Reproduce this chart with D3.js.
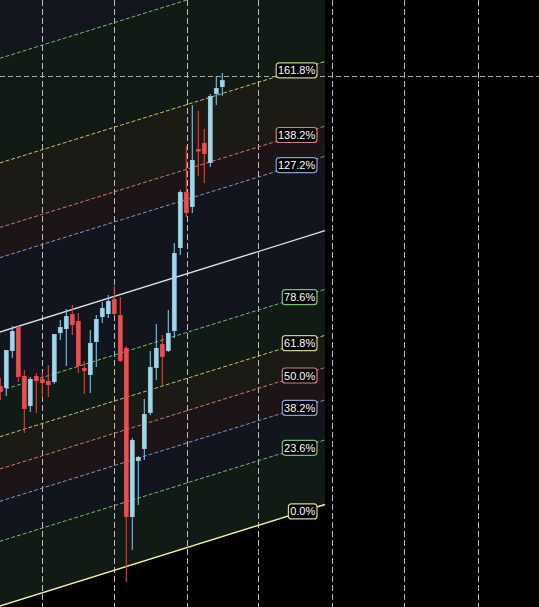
<!DOCTYPE html>
<html><head><meta charset="utf-8">
<script src="https://cdn.jsdelivr.net/npm/d3@7"></script>
<style>html,body{margin:0;padding:0;background:#000;overflow:hidden}</style>
</head><body><svg id="c" width="539" height="607"></svg>
<script>
const W = 539, H = 607;

// OHLC data (price units), one entry per bar
const opens  = [22.1,21.9,25.6,28.0,23.1,20.1,23.1,22.8,22.6,22.5,27.4,27.8,29.3,28.6,23.9,23.2,26.5,29.0,29.3,30.8,29.2,25.9, 9.0,14.6,15.8,19.4,23.9,26.3,25.6,27.6,35.9,41.5,40.0,45.8,46.4,44.4,51.3,52.0];
const highs  = [22.9,25.7,28.1,28.1,23.7,23.0,23.4,23.5,24.2,27.3,28.7,29.8,30.2,29.4,24.6,27.7,29.2,30.5,31.2,32.1,31.0,26.1,16.9,15.1,20.8,25.6,28.3,27.2,29.7,36.4,41.7,46.1,50.2,49.6,47.8,51.3,53.1,53.4];
const lows   = [20.7,21.1,24.9,22.5,17.4,19.5,19.4,21.0,21.0,22.3,26.7,24.1,27.2,23.4,21.3,21.4,24.0,28.4,28.9,29.1,24.5, 2.5, 5.7,10.2,14.7,19.2,22.7,22.2,25.5,26.9,35.2,39.0,39.4,43.1,42.4,44.0,50.2,51.1];
const closes = [21.5,25.7,27.6,23.0,19.8,22.8,22.6,22.4,22.2,27.3,28.0,29.1,28.2,24.1,23.6,26.4,28.8,29.9,30.6,29.3,24.6, 9.0,16.7,15.0,19.3,24.0,25.9,25.0,27.4,35.4,41.5,39.4,44.7,45.6,45.3,51.1,51.9,52.7];

// Fibonacci channel
const fibLevels = [0, 0.236, 0.382, 0.5, 0.618, 0.786, 1, 1.272, 1.382, 1.618, 2, 2.618];
const fibLabels = ["0.0%","23.6%","38.2%","50.0%","61.8%","78.6%","","127.2%","138.2%","161.8%","",""];
const fibLineColors = ["#f2f2a6","#6fbf6f","#7f93cc","#cf7676","#c9c266","#6fbf6f","#e0e0e0","#7f93cc","#cf7676","#c9c266","#6fbf6f","#7f93cc"];
const fibBorderColors = ["#d6d68a","#78c078","#8a9dd2","#d08282","#cfcb84","#78c078","#e0e0e0","#8a9dd2","#d08282","#cfcb84","#78c078","#8a9dd2"];
const fibFills = [null,"#111a14","#12151e","#1c1417","#1b1a14","#111a14","#12151e","#12151e","#1c1417","#1b1a14","#111a14","#13161f"];
const fibStart = {index: 0, price: 0.12};
const fibEnd = {index: 54.12, price: 10.25};
const fibHeight = 27.38;

// grid
const gridIndices = [7, 19, 31.07, 43, 55.23, 67.33, 79.67];
const crossPrice = 53.07;

const x = d3.scaleLinear().domain([-0.05, 89.78]).range([0, W]);
const y = d3.scaleLinear().domain([0, 60.7]).range([H, 0]);

const svg = d3.select("#c");
svg.append("rect").attr("width", W).attr("height", H).attr("fill", "#000");

const slope = (fibEnd.price - fibStart.price) / (fibEnd.index - fibStart.index);
const fibPrice = (lvl, i) => fibStart.price + (i - fibStart.index) * slope + lvl * fibHeight;
const iL = -2, iR = fibEnd.index;

// bands
const gBands = svg.append("g");
for (let k = 1; k < fibLevels.length; k++) {
  const a = fibLevels[k - 1], b = fibLevels[k];
  const pts = [[iL, fibPrice(a, iL)], [iR, fibPrice(a, iR)], [iR, fibPrice(b, iR)], [iL, fibPrice(b, iL)]];
  gBands.append("path")
    .attr("d", "M" + pts.map(p => x(p[0]) + "," + y(p[1])).join("L") + "Z")
    .attr("fill", fibFills[k]);
}

// grid lines
const gGrid = svg.append("g");
gridIndices.forEach(gi => {
  gGrid.append("line").attr("x1", Math.round(x(gi)) + 0.5).attr("x2", Math.round(x(gi)) + 0.5)
    .attr("y1", 0).attr("y2", H)
    .attr("stroke", "#bdbdbd").attr("stroke-width", 1).attr("stroke-dasharray", "6,3");
});
gGrid.append("line").attr("x1", 0).attr("x2", W)
  .attr("y1", Math.round(y(crossPrice)) + 0.5).attr("y2", Math.round(y(crossPrice)) + 0.5)
  .attr("stroke", "#a8a8a8").attr("stroke-width", 1).attr("stroke-dasharray", "5,3");

// fib lines
const gLines = svg.append("g");
fibLevels.forEach((lvl, k) => {
  const solid = (lvl === 0 || lvl === 1);
  gLines.append("line")
    .attr("x1", x(iL)).attr("y1", y(fibPrice(lvl, iL)))
    .attr("x2", x(iR)).attr("y2", y(fibPrice(lvl, iR)))
    .attr("stroke", fibLineColors[k])
    .attr("stroke-width", solid ? 1.4 : 1)
    .attr("stroke-dasharray", solid ? null : "4,2");
});

// candles
const candles = opens.map((o, i) => ({i, o, h: highs[i], l: lows[i], c: closes[i]}));
const gC = svg.append("g");
const bw = 4.7;
candles.forEach(d => {
  const up = d.c >= d.o;
  const cx = x(d.i);
  gC.append("line").attr("x1", cx).attr("x2", cx)
    .attr("y1", y(d.h)).attr("y2", y(d.l))
    .attr("stroke", up ? "#6cc6f4" : "#ff3434").attr("stroke-width", 1.1);
  const top = y(Math.max(d.o, d.c)), bot = y(Math.min(d.o, d.c));
  gC.append("rect").attr("x", cx - bw / 2 + 0.5).attr("y", top + 0.5)
    .attr("width", bw - 1).attr("height", Math.max(bot - top - 1, 1.5))
    .attr("fill", up ? "#a6d7e6" : "#e25454")
    .attr("stroke", up ? "#8ccbe2" : "#f04040").attr("stroke-width", 1);
});

// labels
const gLab = svg.append("g").attr("font-family", "'Liberation Sans', Arial, sans-serif")
  .attr("font-size", "11px");
const labelRight = 317;
fibLevels.forEach((lvl, k) => {
  if (!fibLabels[k]) return;
  const g = gLab.append("g");
  const t = g.append("text").text(fibLabels[k]).attr("fill", "#ffffff");
  const tw = t.node().getComputedTextLength();
  const bwid = tw + 3.5, bh = 15;
  const left = labelRight - bwid;
  const cxLab = left + bwid / 2;
  const cyLab = y(fibPrice(lvl, x.invert(cxLab)));
  g.insert("rect", "text").attr("x", left).attr("y", cyLab - bh / 2)
    .attr("width", bwid).attr("height", bh).attr("rx", 3).attr("ry", 3)
    .attr("fill", "#000").attr("stroke", fibBorderColors[k]).attr("stroke-width", 1.2);
  t.attr("x", cxLab).attr("y", cyLab + 4).attr("text-anchor", "middle");
});
</script>
</body></html>
